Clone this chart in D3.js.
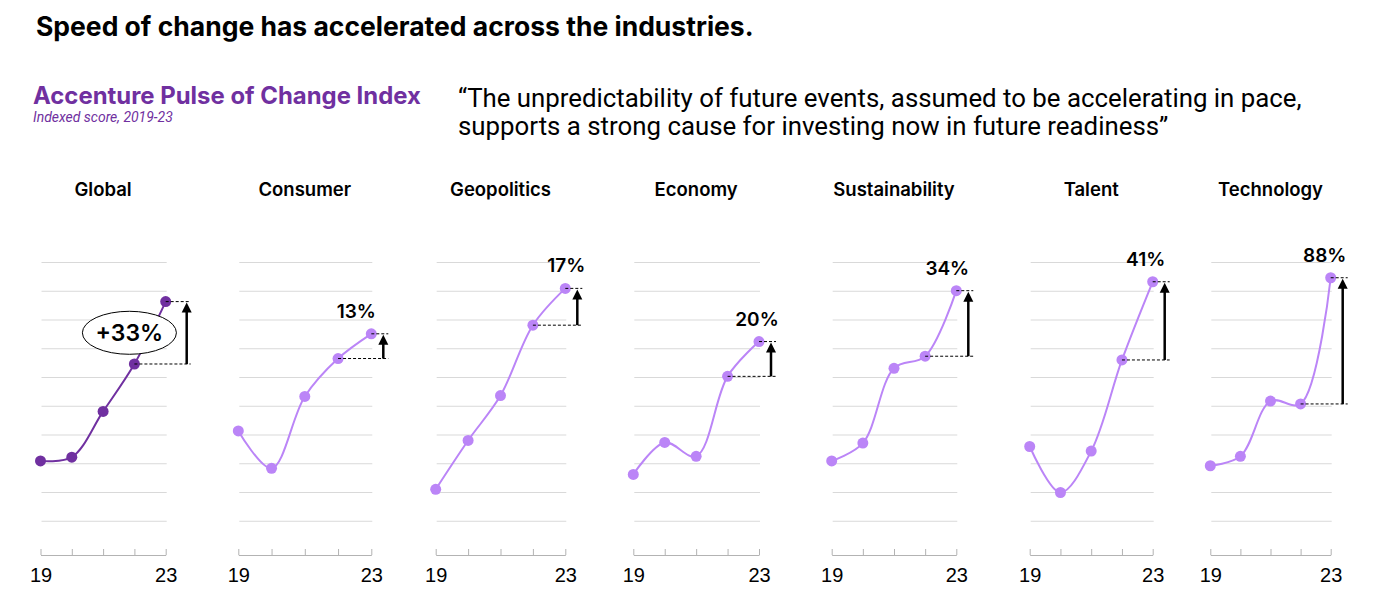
<!DOCTYPE html>
<html>
<head>
<meta charset="utf-8">
<script src="https://cdn.jsdelivr.net/npm/d3@7"></script>
<style>
  body { margin: 0; background: #fff; }
  svg { display: block; }
</style>
</head>
<body>
<svg id="chart" width="1378" height="612"></svg>
<script>
// data (index units, gridline every 10)
var years = [2019, 2020, 2021, 2022, 2023];
var yearLabels = ["19", "", "", "", "23"];
var categories = ["Global", "Consumer", "Geopolitics", "Economy", "Sustainability", "Talent", "Technology"];

var globalScores = [31.0, 32.3, 48.2, 64.7, 86.4];
var consumerScores = [41.4, 28.4, 53.4, 66.6, 75.2];
var geopoliticsScores = [21.1, 38.1, 53.7, 78.2, 91.0];
var economyScores = [26.3, 37.4, 32.6, 60.4, 72.5];
var sustainabilityScores = [31.0, 37.2, 63.2, 67.4, 90.2];
var talentScores = [36.0, 20.0, 34.4, 66.1, 93.3];
var technologyScores = [29.3, 32.6, 51.8, 50.8, 94.7];

var changeLabels = ["+33%", "13%", "17%", "20%", "34%", "41%", "88%"];
var gridValues = [10, 20, 30, 40, 50, 60, 70, 80, 90, 100];

var series = [globalScores, consumerScores, geopoliticsScores, economyScores,
              sustainabilityScores, talentScores, technologyScores];

// layout of the small multiples
var panelLeft = [40.5, 238.3, 435.7, 633.3, 831.7, 1029.7, 1210.3];
var panelWidth = [125.2, 133, 129.6, 125.7, 124.6, 123, 120.4];
var labelDx = [0, -15, 1, -2, -9, -7, -6];

var darkPurple = "#7030a0",
    lightPurple = "#bb85f7";

var svg = d3.select("#chart");

// fit a text element to a target width
function fitWidth(sel, target) {
    var size = parseFloat(sel.style("font-size"));
    var w = sel.node().getComputedTextLength();
    var s = size * target / w;
    sel.style("font-size", s + "px");
    return s;
}

var title = svg.append("text")
    .attr("x", 36)
    .attr("y", 36)
    .style("font-family", "Inter")
    .style("font-weight", 700)
    .style("font-size", "25px")
    .attr("fill", "#000")
    .text("Speed of change has accelerated across the industries.");
fitWidth(title, 718);

var sub = svg.append("text")
    .attr("x", 33)
    .attr("y", 104)
    .style("font-family", "Inter")
    .style("font-weight", 700)
    .style("font-size", "21px")
    .attr("fill", darkPurple)
    .text("Accenture Pulse of Change Index");
fitWidth(sub, 388);

var note = svg.append("text")
    .attr("x", 33)
    .attr("y", 122)
    .style("font-family", "Roboto")
    .style("font-style", "italic")
    .style("font-size", "13px")
    .attr("fill", darkPurple)
    .text("Indexed score, 2019-23");
fitWidth(note, 140);

var q1 = svg.append("text")
    .attr("x", 458)
    .attr("y", 107)
    .style("font-family", "Roboto")
    .style("font-size", "22px")
    .attr("fill", "#000")
    .text("\u201CThe unpredictability of future events, assumed to be accelerating in pace,");
var qs = fitWidth(q1, 844);

svg.append("text")
    .attr("x", 458)
    .attr("y", 135)
    .style("font-family", "Roboto")
    .style("font-size", qs + "px")
    .attr("fill", "#000")
    .text("supports a strong cause for investing now in future readiness\u201D");

var y = d3.scaleLinear()
    .domain([0, 100])
    .range([550, 262.5]);

var axisY = y(0) + 5;

categories.forEach(function(cat, i) {
    var vals = series[i];
    var color = i === 0 ? darkPurple : lightPurple;

    var x = d3.scaleLinear()
        .domain([years[0], years[years.length - 1]])
        .range([panelLeft[i], panelLeft[i] + panelWidth[i]]);

    var g = svg.append("g").attr("class", "panel");

    // panel title
    g.append("text")
        .attr("x", (x.range()[0] + x.range()[1]) / 2)
        .attr("y", 196)
        .attr("text-anchor", "middle")
        .style("font-family", "Inter")
        .style("font-weight", 600)
        .style("font-size", "18.5px")
        .attr("fill", "#000")
        .text(cat);

    // gridlines
    g.selectAll("line.grid")
        .data(gridValues)
        .enter()
        .append("line")
        .attr("class", "grid")
        .attr("x1", x.range()[0] + 1)
        .attr("x2", x.range()[1] + 1)
        .attr("y1", function(d) { return y(d); })
        .attr("y2", function(d) { return y(d); })
        .attr("stroke", "#d9d9d9")
        .attr("stroke-width", 1);

    // x axis, ticks pointing up
    var xAxis = d3.axisBottom(x)
        .tickValues(years)
        .tickSizeInner(-6)
        .tickSizeOuter(0)
        .tickPadding(13)
        .tickFormat(function(d, j) { return yearLabels[j]; });

    var ax = g.append("g")
        .attr("transform", "translate(0," + axisY + ")")
        .call(xAxis);
    ax.select(".domain").attr("stroke", "#b3b3b3");
    ax.selectAll(".tick line").attr("stroke", "#b3b3b3");
    ax.selectAll(".tick text")
        .style("font-family", "Liberation Sans, Arial")
        .style("font-size", "20px")
        .attr("fill", "#000");

    // line
    var line = d3.line()
        .x(function(d, j) { return x(years[j]); })
        .y(function(d) { return y(d); })
        .curve(d3.curveCatmullRom.alpha(0.5));

    g.append("path")
        .datum(vals)
        .attr("d", line)
        .attr("fill", "none")
        .attr("stroke", color)
        .attr("stroke-width", 2);

    g.selectAll("circle")
        .data(vals)
        .enter()
        .append("circle")
        .attr("cx", function(d, j) { return x(years[j]); })
        .attr("cy", function(d) { return y(d); })
        .attr("r", 5.5)
        .attr("fill", color);

    // change annotation between 2022 and 2023
    var v22 = vals[3], v23 = vals[4];
    var x22 = x(years[3]), x23 = x(years[4]);
    var arrowX = x23 + (i === 0 ? 21 : 12);
    var dashEnd = x23 + (i === 0 ? 25 : 17);

    g.append("line")
        .attr("x1", x22).attr("x2", dashEnd)
        .attr("y1", y(v22)).attr("y2", y(v22))
        .attr("stroke", "#000").attr("stroke-width", 1)
        .attr("stroke-dasharray", "3,2");
    g.append("line")
        .attr("x1", x23).attr("x2", dashEnd)
        .attr("y1", y(v23)).attr("y2", y(v23))
        .attr("stroke", "#000").attr("stroke-width", 1)
        .attr("stroke-dasharray", "3,2");

    var headH = 11, headW = 5;
    g.append("line")
        .attr("x1", arrowX).attr("x2", arrowX)
        .attr("y1", y(v22)).attr("y2", y(v23) + headH - 1)
        .attr("stroke", "#000").attr("stroke-width", 2.5);
    g.append("path")
        .attr("d", "M" + arrowX + "," + (y(v23) + 1) +
                   "L" + (arrowX + headW) + "," + (y(v23) + headH) +
                   "L" + (arrowX - headW) + "," + (y(v23) + headH) + "Z")
        .attr("fill", "#000");

    if (i === 0) {
        var cx = x22 - 5,
            cy = (y(v22) + y(v23)) / 2;
        g.append("ellipse")
            .attr("cx", cx).attr("cy", cy)
            .attr("rx", 47).attr("ry", 21.5)
            .attr("fill", "#fff")
            .attr("stroke", "#000")
            .attr("stroke-width", 1);
        g.append("text")
            .attr("x", cx).attr("y", cy + 8.5)
            .attr("text-anchor", "middle")
            .style("font-family", "Inter")
            .style("font-weight", 600)
            .style("font-size", "23px")
            .attr("fill", "#000")
            .text(changeLabels[i]);
    } else {
        g.append("text")
            .attr("x", x23 + labelDx[i])
            .attr("y", y(v23) - 16)
            .attr("text-anchor", "middle")
            .style("font-family", "Inter")
            .style("font-weight", 600)
            .style("font-size", "19px")
            .attr("fill", "#000")
            .text(changeLabels[i]);
    }
});
</script>
</body>
</html>
